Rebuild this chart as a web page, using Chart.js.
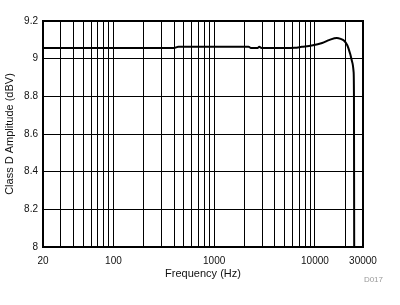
<!DOCTYPE html>
<html>
<head>
<meta charset="utf-8">
<script src="https://cdn.jsdelivr.net/npm/chart.js@4/dist/chart.umd.min.js"></script>
<style>
  html, body { margin: 0; padding: 0; background: #fff; }
  #wrap { width: 400px; height: 305px; position: relative; }
</style>
</head>
<body>
<div id="wrap"><canvas id="ampChart" width="400" height="305"></canvas></div>
<script>
// frequency (Hz) and amplitude (dBV)
const freqHz = [20, 50, 100, 200, 400, 440, 1000, 1500, 2200, 2300, 2700, 2800, 2950, 5000, 6300,
                7400, 9300, 11800, 14000, 16500, 18000, 19500, 21000, 22400, 23500, 24200, 24400, 24600];
const ampDbv = [9.056, 9.056, 9.056, 9.056, 9.057, 9.063, 9.063, 9.063, 9.063, 9.057, 9.057, 9.063, 9.057, 9.057, 9.058,
                9.063, 9.070, 9.083, 9.100, 9.110, 9.105, 9.095, 9.070, 9.025, 8.980, 8.930, 8.800, 7.500];

const gridFreqs = [20, 30, 40, 50, 60, 70, 80, 90, 100, 200, 300, 400, 500, 600, 700, 800, 900,
                   1000, 2000, 3000, 4000, 5000, 6000, 7000, 8000, 9000, 10000, 20000, 30000];
const labeledFreqs = [20, 100, 1000, 10000, 30000];
const yTicks = [8, 8.2, 8.4, 8.6, 8.8, 9, 9.2];

const FONT = "'Liberation Sans', Arial, sans-serif";

const framePlugin = {
  id: 'frame',
  afterDraw(chart) {
    const ctx = chart.ctx;
    const a = chart.chartArea;
    ctx.save();
    ctx.strokeStyle = '#000';
    ctx.lineWidth = 2;
    ctx.strokeRect(a.left, a.top, a.right - a.left, a.bottom - a.top);

    ctx.fillStyle = '#111';
    ctx.font = '11px ' + FONT;
    ctx.textAlign = 'center';
    ctx.textBaseline = 'middle';
    ctx.fillText('Frequency (Hz)', (a.left + a.right) / 2, 274);

    ctx.translate(10, (a.top + a.bottom) / 2);
    ctx.rotate(-Math.PI / 2);
    ctx.fillText('Class D Amplitude (dBV)', 0, 0);
    ctx.restore();

    ctx.save();
    ctx.fillStyle = '#999';
    ctx.font = '8px ' + FONT;
    ctx.textAlign = 'right';
    ctx.textBaseline = 'middle';
    ctx.fillText('D017', 383, 280);
    ctx.restore();
  }
};

new Chart(document.getElementById('ampChart'), {
  type: 'line',
  data: {
    datasets: [{
      data: freqHz.map((f, i) => ({ x: f, y: ampDbv[i] })),
      borderColor: '#000',
      borderWidth: 2,
      pointRadius: 0,
      fill: false,
      cubicInterpolationMode: 'monotone'
    }]
  },
  options: {
    responsive: false,
    animation: false,
    layout: { padding: { left: 0, right: 37, top: 21, bottom: 0 } },
    plugins: { legend: { display: false }, tooltip: { enabled: false } },
    scales: {
      x: {
        type: 'logarithmic',
        min: 20,
        max: 30000,
        afterBuildTicks: (scale) => { scale.ticks = gridFreqs.map(v => ({ value: v })); },
        afterFit: (scale) => { scale.height = 58; },
        grid: { color: '#000', lineWidth: 1, drawTicks: false },
        border: { display: false },
        ticks: {
          autoSkip: false,
          maxRotation: 0,
          padding: 8,
          color: '#111',
          font: { family: FONT, size: 10 },
          callback: (v) => labeledFreqs.includes(v) ? String(v) : ''
        }
      },
      y: {
        min: 8,
        max: 9.2,
        afterBuildTicks: (scale) => { scale.ticks = yTicks.map(v => ({ value: v })); },
        afterFit: (scale) => { scale.width = 43; },
        grid: { color: '#000', lineWidth: 1, drawTicks: false },
        border: { display: false },
        ticks: {
          padding: 5,
          color: '#111',
          font: { family: FONT, size: 10 },
          callback: (v) => String(Math.round(v * 10) / 10)
        }
      }
    }
  },
  plugins: [framePlugin]
});
</script>
</body>
</html>
